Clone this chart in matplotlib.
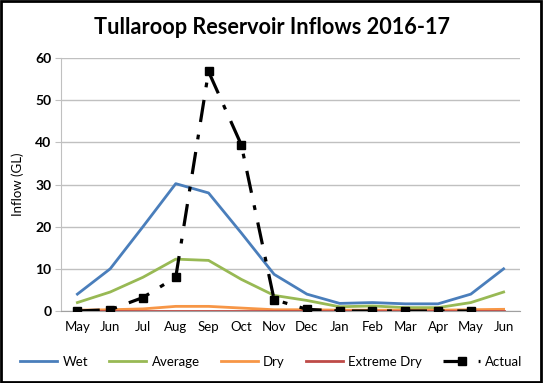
import matplotlib
matplotlib.use("Agg")
import matplotlib.pyplot as plt
from matplotlib.patches import Rectangle

plt.rcParams['font.family'] = ['Lato', 'DejaVu Sans']

months = ["May", "Jun", "Jul", "Aug", "Sep", "Oct", "Nov", "Dec", "Jan", "Feb", "Mar", "Apr", "May", "Jun"]
wet = [4.0, 10.0, 20.0, 30.2, 28.0, 18.5, 8.7, 4.0, 1.8, 2.0, 1.7, 1.7, 4.0, 10.0]
average = [2.0, 4.5, 8.0, 12.3, 12.0, 7.5, 3.7, 2.5, 1.0, 1.2, 0.8, 0.8, 2.0, 4.5]
dry = [0.2, 0.3, 0.5, 1.1, 1.1, 0.7, 0.3, 0.3, 0.2, 0.2, 0.2, 0.2, 0.3, 0.4]
extreme_dry = [0.1, 0.1, 0.1, 0.1, 0.1, 0.1, 0.1, 0.1, 0.1, 0.1, 0.1, 0.1, 0.1, 0.1]
actual = [0.0, 0.3, 3.2, 8.0, 56.8, 39.4, 2.7, 0.4, 0.0, 0.0, 0.0, 0.0, 0.0]
yticks = [0, 10, 20, 30, 40, 50, 60]

fig = plt.figure(figsize=(5.43, 3.83), dpi=100)
ax = fig.add_axes([61/543, 1-311/383, (520-61)/543, (311-58)/383])

x = list(range(len(months)))
ax.plot(x, wet, color="#4A7EBB", lw=2, label="Wet", zorder=3)
ax.plot(x, average, color="#98B954", lw=2, label="Average", zorder=3)
ax.plot(x, dry, color="#F79646", lw=2, label="Dry", zorder=3)
ax.plot(x, extreme_dry, color="#BE4B48", lw=2, label="Extreme Dry", zorder=3)
ax.plot(list(range(len(actual))), actual, color="black", lw=2.3, dashes=(7, 4, 1.5, 4),
        marker="s", markersize=6, label="Actual", zorder=4)

ax.set_xlim(-0.5, 13.5)
ax.set_ylim(0, 60)
ax.set_yticks(yticks)
ax.set_yticklabels([str(v) for v in yticks], fontweight="bold", fontsize=10)
ax.set_xticks(x)
ax.set_xticklabels(months, fontsize=9.5)
ax.grid(axis="y", color="#C0C0C0", lw=1)
ax.set_axisbelow(True)
for s in ["top", "right"]:
    ax.spines[s].set_visible(False)
ax.spines["left"].set_color("#C0C0C0")
ax.spines["bottom"].set_color("#A0A0A0")
ax.tick_params(axis="y", length=4, color="#C0C0C0", pad=3)
ax.tick_params(axis="x", length=0, pad=7)
ax.set_ylabel("Inflow (GL)", fontsize=9.5, labelpad=8)

fig.text(0.5, 1-28/383, "Tullaroop Reservoir Inflows 2016-17", ha="center", va="center",
         fontsize=15.6, fontweight="bold")

handles, labels = ax.get_legend_handles_labels()
fig.legend(handles, labels, loc="center", bbox_to_anchor=(0.5, 1-362/383), ncol=5,
           frameon=False, fontsize=9.5, handlelength=2.8, columnspacing=1.6,
           handletextpad=0.4)

fig.patches.append(Rectangle((0.002, 0.003), 0.995, 0.994, transform=fig.transFigure,
                             fill=False, edgecolor="black", lw=2))
fig.savefig("out.png", dpi=100)
